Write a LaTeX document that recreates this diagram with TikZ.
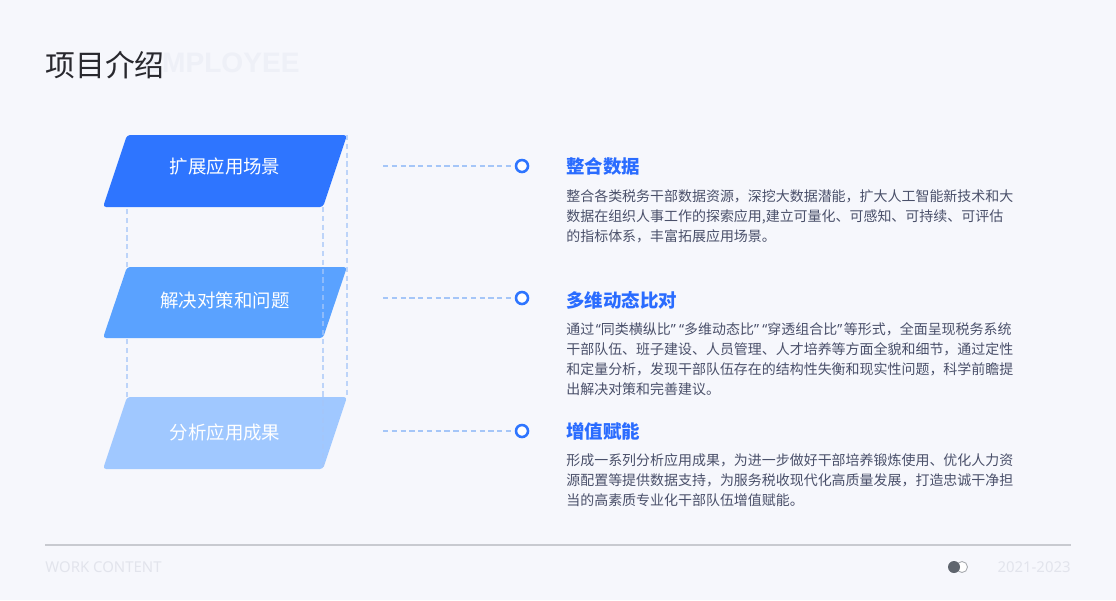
\documentclass[tikz,border=0pt]{standalone}
\usepackage{fontspec}
\setmainfont{Noto Sans CJK SC}
\newfontfamily\latinfont{Noto Sans}
\newfontfamily\ghostfont{Liberation Sans}
\definecolor{bgpage}{RGB}{246,247,252}
\definecolor{deepblue}{RGB}{46,117,255}
\definecolor{midblue}{RGB}{90,162,255}
\definecolor{paleblue}{RGB}{160,200,255}
\definecolor{dashblue}{RGB}{165,198,248}
\definecolor{headblue}{RGB}{42,108,255}
\definecolor{bodygray}{RGB}{74,80,106}
\definecolor{titlegray}{RGB}{40,40,46}
\definecolor{ghost}{RGB}{238,240,247}
\definecolor{rulegray}{RGB}{200,202,208}
\definecolor{footgray}{RGB}{226,228,236}
\definecolor{knob}{RGB}{95,101,110}
\usetikzlibrary{positioning}
\newcommand\qopen{{\kern0.12em\latinfont “}}
\newcommand\qclose{{\latinfont ”\kern0.12em}}

\begin{document}
\begin{tikzpicture}[x=0.02cm, y=-0.02cm, every node/.style={inner sep=0pt},
  boxlabel/.style={text=white, font=\fontsize{10.5}{12}\selectfont},
  headtext/.style={anchor=west, text=headblue, font=\bfseries\fontsize{10.5}{12}\selectfont},
  bodytext/.style={text=bodygray, align=left, font=\fontsize{7.95}{11.38}\selectfont},
  vdash/.style={dashblue, line width=0.6pt, dash pattern=on 3pt off 2pt, opacity=0.7},
  hdash/.style={dashblue, line width=0.8pt, dash pattern=on 3pt off 2pt},
  ring/.style={circle, draw=deepblue, line width=1.45pt, fill=white, minimum size=0.24cm},
  foottext/.style={text=footgray, font=\latinfont\fontsize{8.5}{10}\selectfont}]
% page and margins
\fill[bgpage] (0,0) rectangle (1116,600);
% title
\node[anchor=west, text=ghost, font=\ghostfont\bfseries\fontsize{16}{19}\selectfont] (ghostword) at (143,63) {EMPLOYEE};
\node[anchor=west, text=titlegray, font=\fontsize{17}{20}\selectfont] (title) at (45,65) {项目介绍};
% slanted boxes
\foreach \i/\t/\b/\col in {1/135/207/deepblue, 2/267/338/midblue, 3/397/469/paleblue}{
  \coordinate (s\i-nw) at (127,\t);
  \coordinate (s\i-ne) at (347,\t);
  \coordinate (s\i-se) at (323,\b);
  \coordinate (s\i-sw) at (103,\b);
  \fill[\col, rounded corners=1.8pt] (s\i-nw) -- (s\i-ne) -- (s\i-se) -- (s\i-sw) -- cycle;
}
\node[boxlabel] (lab1) at (225,166) {扩展应用场景};
\node[boxlabel] (lab2) at (225,300) {解决对策和问题};
\node[boxlabel] (lab3) at (225,432) {分析应用成果};
% guide lines
\draw[vdash] (s2-nw) -- (s2-nw |- s1-sw);
\draw[vdash] (s3-nw) -- (s3-nw |- s2-sw);
\draw[vdash] (s1-se) -- (s3-se);
\draw[vdash] (s1-ne) -- (s3-ne);
% connectors
\foreach \i/\y in {1/166, 2/298, 3/431}{
  \coordinate (tail\i) at (383,\y);
  \node[ring] (ring\i) at (522,\y) {};
  \draw[hdash] (tail\i) -- (ring\i);
}
% texts
\node[headtext] (head1) at (566,166) {整合数据};
\node[bodytext, below=0.29cm of head1.south west, anchor=north west] (body1) {%
  整合各类税务干部数据资源，深挖大数据潜能，扩大人工智能新技术和大\\
  数据在组织人事工作的探索应用,建立可量化、可感知、可持续、可评估\\
  的指标体系，丰富拓展应用场景。};
\node[headtext] (head2) at (566,300) {多维动态比对};
\node[bodytext, below=0.25cm of head2.south west, anchor=north west] (body2) {%
  通过\qopen 同类横纵比\qclose\qopen 多维动态比\qclose\qopen 穿透组合比\qclose 等形式，全面呈现税务系统\\
  干部队伍、班子建设、人员管理、人才培养等方面全貌和细节，通过定性\\
  和定量分析，发现干部队伍存在的结构性失衡和现实性问题，科学前瞻提\\
  出解决对策和完善建议。};
\node[headtext] (head3) at (566,431) {增值赋能};
\node[bodytext, below=0.26cm of head3.south west, anchor=north west] (body3) {%
  形成一系列分析应用成果，为进一步做好干部培养锻炼使用、优化人力资\\
  源配置等提供数据支持，为服务税收现代化高质量发展，打造忠诚干净担\\
  当的高素质专业化干部队伍增值赋能。};
% footer
\draw[rulegray, line width=0.7pt] (45,545) -- (1071,545);
\node[foottext, anchor=west] (work) at (45,567) {WORK CONTENT};
\node[foottext, anchor=east] (years) at (1071,567) {2021-2023};
\node[circle, draw=knob!55, line width=0.5pt, fill=white, minimum size=0.22cm] (knobR) at (962,567) {};
\node[circle, fill=knob, minimum size=0.24cm] (knobL) at (954,567) {};
\end{tikzpicture}
\end{document}
